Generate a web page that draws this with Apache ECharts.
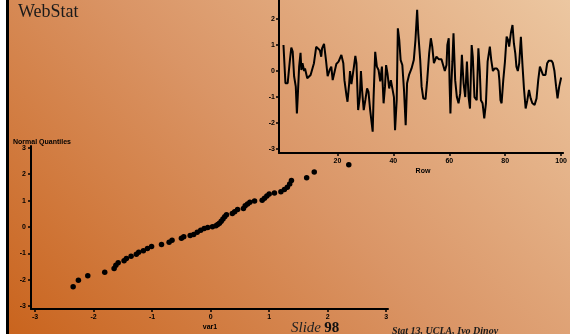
<!DOCTYPE html>
<html>
<head>
<meta charset="utf-8">
<script src="https://cdn.jsdelivr.net/npm/echarts@6/dist/echarts.min.js"></script>
<style>
  html, body { margin: 0; padding: 0; background: #fff; }
  #chart { width: 570px; height: 334px; }
</style>
</head>
<body>
<div id="chart"></div>
<script>
// inset time series: row position and value
var rowPos = [0.7, 1.0, 1.4, 2.2, 2.5, 3.0, 3.5, 4.0, 4.5, 5.1, 5.5, 5.8, 6.3, 6.8, 7.1, 7.5, 8.1, 8.4, 9.2, 10.4,
  11.6, 12.4, 13.1, 13.7, 14.2, 14.5, 15.2, 15.9, 16.5, 17.2, 17.8, 18.3, 19.0, 19.6, 20.4, 21.4, 22.1, 22.5, 23.2, 23.6,
  24.2, 24.5, 25.0, 25.5, 25.9, 26.4, 26.8, 27.4, 28.0, 28.4, 28.8, 29.4, 30.0, 30.6, 31.1, 31.7, 32.6, 32.9, 33.5, 34.1,
  34.7, 35.3, 35.9, 36.5, 37.0, 37.4, 37.9, 38.5, 39.1, 39.6, 40.2, 40.6, 41.2, 41.6, 42.1, 42.6, 43.2, 43.8, 44.4, 44.9,
  45.6, 46.5, 47.3, 47.9, 48.5, 48.9, 49.6, 50.1, 50.7, 51.5, 52.1, 52.8, 53.4, 53.9, 54.5, 55.4, 56.3, 57.2, 57.8, 58.4,
  59.0, 59.3, 59.8, 60.1, 60.4, 60.7, 61.1, 61.5, 62.1, 62.7, 63.3, 63.9, 64.5, 65.1, 65.7, 66.3, 66.9, 67.4, 68.0, 68.4,
  69.0, 69.8, 70.4, 70.9, 71.3, 71.9, 72.5, 73.1, 73.7, 74.5, 75.0, 75.6, 76.2, 77.0, 77.6, 77.9, 78.3, 78.7, 79.3, 79.9,
  80.5, 81.0, 81.4, 82.0, 82.6, 83.1, 83.6, 84.0, 84.5, 85.0, 85.6, 86.2, 86.7, 87.3, 87.9, 88.5, 89.1, 89.7, 90.5, 91.2,
  91.8, 92.4, 93.0, 93.5, 94.4, 95.0, 95.6, 96.5, 97.0, 97.6, 98.2, 98.7, 99.3, 100.0];
var rowVal = [1.0, 0.95, -0.47, -0.47, -0.4, 0.42, 0.9, 0.75, -0.2, -0.6, -1.63, -1.0, 0.17, 0.7, 0.04, 0.3, 0, 0.1, -0.28, -0.15,
  0.3, 0.93, 0.96, 0.8, 0.55, 0.87, 1.04, 0.42, -0.2, 0.04, 0.17, -0.35, -0.35, 0.27, 0.36, 0.62, 0.3, -0.35, -0.92, -1.18,
  -0.47, 0, -0.5, -0.5, 0.17, 0.58, 0.3, -1.5, -1.0, 0, -0.73, -1.5, -1.1, -0.67, -0.8, -1.5, -2.33, -1.1, 0.74, 0.17,
  0.04, -0.4, 0.17, -1.24, -0.6, 0.23, -0.1, -0.67, -0.35, -0.35, -1.0, -2.27, -1.1, 1.64, 1.2, 0.42, 0.23, -0.73, -2.08, -0.47,
  -0.15, 0.1, 0.42, 1.2, 2.35, 1.45, 0.42, -0.6, -1.05, -1.08, -0.35, 0.68, 1.26, 0.94, 0.3, 0.55, 0.45, 0.45, 0.45, 0,
  0.23, 1.0, 1.26, -0.47, -1.63, -0.6, 0.36, 1.45, -0.35, -1.0, -1.24, -0.86, 0.62, -0.47, -1.0, 0.36, -1.0, -1.44, 1.0, 0.55,
  -1.0, -1.12, 0.87, 0, -1.12, -1.24, -1.82, -1.24, 0.36, 0.94, 0.42, 0, 0.1, 0.1, 0, -0.35, -1.12, -1.24, -0.35, 0.36,
  1.32, 1.2, 0.94, 1.45, 1.77, 1.06, 0.68, 0.17, 0, 0.3, 1.32, 0.17, -0.67, -1.44, -1.12, -0.73, -1.05, -1.24, -1.3, -1.05,
  -0.35, 0.17, 0.17, -0.15, -0.15, 0.3, 0.4, 0.4, 0.32, 0, -0.6, -1.05, -0.6, -0.25];

// normal quantile plot: var1 value and normal quantile
var qqVar = [-2.35, -2.26, -2.10, -1.81, -1.65, -1.62, -1.58, -1.48, -1.44, -1.36, -1.27, -1.23, -1.15, -1.08, -1.01, -0.84,
  -0.71, -0.66, -0.50, -0.46, -0.35, -0.29, -0.23, -0.17, -0.11, -0.05, 0.03, 0.09, 0.12, 0.15, 0.18, 0.21, 0.24, 0.27,
  0.37, 0.41, 0.46, 0.56, 0.59, 0.63, 0.67, 0.75, 0.88, 0.92, 0.96, 1.00, 1.09, 1.20, 1.26, 1.31, 1.35, 1.38, 1.64, 1.77, 2.36];
var qqNorm = [-2.27, -2.02, -1.85, -1.72, -1.57, -1.45, -1.36, -1.28, -1.20, -1.11, -1.03, -0.96, -0.90, -0.82, -0.74, -0.66,
  -0.58, -0.50, -0.43, -0.37, -0.32, -0.29, -0.20, -0.12, -0.06, -0.02, 0.01, 0.05, 0.09, 0.14, 0.22, 0.30, 0.39, 0.46,
  0.51, 0.58, 0.66, 0.70, 0.80, 0.87, 0.94, 0.98, 1.01, 1.09, 1.17, 1.25, 1.29, 1.34, 1.42, 1.51, 1.63, 1.76, 1.87, 2.08, 2.36];

var mainTicks = [-3, -2, -1, 0, 1, 2, 3];
var insetXTicks = [20, 40, 60, 80, 100];
var insetYTicks = [-3, -2, -1, 0, 1, 2];

var lineData = rowPos.map(function(r, i) { return [r, rowVal[i]]; });
var qqData = qqVar.map(function(v, i) { return [v, qqNorm[i]]; });

// small bold axis text
var tickFont = { color: '#000', fontSize: 7, fontWeight: 'bold', fontFamily: 'Liberation Sans, Arial, sans-serif' };

function axisCommon(ticks, labelMargin) {
  return {
    type: 'value',
    splitLine: { show: false },
    axisLine: { show: true, onZero: false, lineStyle: { color: '#000', width: 2 } },
    axisTick: { show: true, length: 3, lineStyle: { color: '#000', width: 1.5 }, customValues: ticks },
    axisLabel: Object.assign({ margin: labelMargin, customValues: ticks }, tickFont)
  };
}

var node = document.getElementById('chart');
var chart = echarts.init(node, null, { renderer: 'canvas' });

var option = {
  animation: false,
  backgroundColor: new echarts.graphic.LinearGradient(0, 334, 452, -118, [
    { offset: 0, color: '#c9631c' },
    { offset: 0.5, color: '#da9566' },
    { offset: 1, color: '#ecc7a1' }
  ], true),
  grid: [
    { left: 31, right: 182, top: 146, bottom: 25 },
    { left: 279, right: 4, top: 0, bottom: 181 }
  ],
  xAxis: [
    Object.assign(axisCommon(mainTicks, 5), { gridIndex: 0, min: -3.07, max: 3.03 }),
    Object.assign(axisCommon(insetXTicks, 5), { gridIndex: 1, min: -0.9, max: 100.7 })
  ],
  yAxis: [
    Object.assign(axisCommon(mainTicks, 5), { gridIndex: 0, min: -3.11, max: 3.07 }),
    Object.assign(axisCommon(insetYTicks, 4), { gridIndex: 1, min: -3.15, max: 2.73 })
  ],
  series: [
    {
      // 正态分位图
      type: 'scatter',
      xAxisIndex: 0,
      yAxisIndex: 0,
      symbol: 'circle',
      symbolSize: 5.5,
      itemStyle: { color: '#000', opacity: 1 },
      data: qqData
    },
    {
      // 时间序列
      type: 'line',
      xAxisIndex: 1,
      yAxisIndex: 1,
      showSymbol: false,
      lineStyle: { color: '#000', width: 2 },
      data: lineData
    }
  ],
  graphic: [
    { type: 'rect', left: 0, top: 0, shape: { width: 6, height: 334 }, style: { fill: '#fff' } },
    { type: 'rect', left: 6, top: 0, shape: { width: 3, height: 334 }, style: { fill: '#000' } },
    {
      type: 'text', x: 18, y: 3,
      style: { text: 'WebStat', fill: '#1a1a1a', font: '18px "Liberation Serif", "Times New Roman", serif', textVerticalAlign: 'top' }
    },
    {
      type: 'text', x: 13, y: 142,
      style: { text: 'Normal Quantiles', fill: '#000', font: 'bold 7px "Liberation Sans", Arial, sans-serif', textVerticalAlign: 'middle' }
    },
    {
      type: 'text', x: 210, y: 327,
      style: { text: 'var1', fill: '#000', font: 'bold 7px "Liberation Sans", Arial, sans-serif', textAlign: 'center', textVerticalAlign: 'middle' }
    },
    {
      type: 'text', x: 423, y: 171,
      style: { text: 'Row', fill: '#000', font: 'bold 7px "Liberation Sans", Arial, sans-serif', textAlign: 'center', textVerticalAlign: 'middle' }
    },
    {
      type: 'text', x: 291, y: 321,
      style: {
        text: '{i|Slide} {b|98}',
        textVerticalAlign: 'top',
        rich: {
          i: { fill: '#222', font: 'italic 15px "Liberation Serif", serif' },
          b: { fill: '#111', font: 'bold 15px "Liberation Serif", serif' }
        }
      }
    },
    {
      type: 'text', x: 392, y: 326,
      style: { text: 'Stat 13, UCLA, Ivo Dinov', fill: '#1a1a1a', font: 'italic bold 10px "Liberation Serif", serif', textVerticalAlign: 'top' }
    }
  ]
};

chart.setOption(option);
</script>
</body>
</html>
